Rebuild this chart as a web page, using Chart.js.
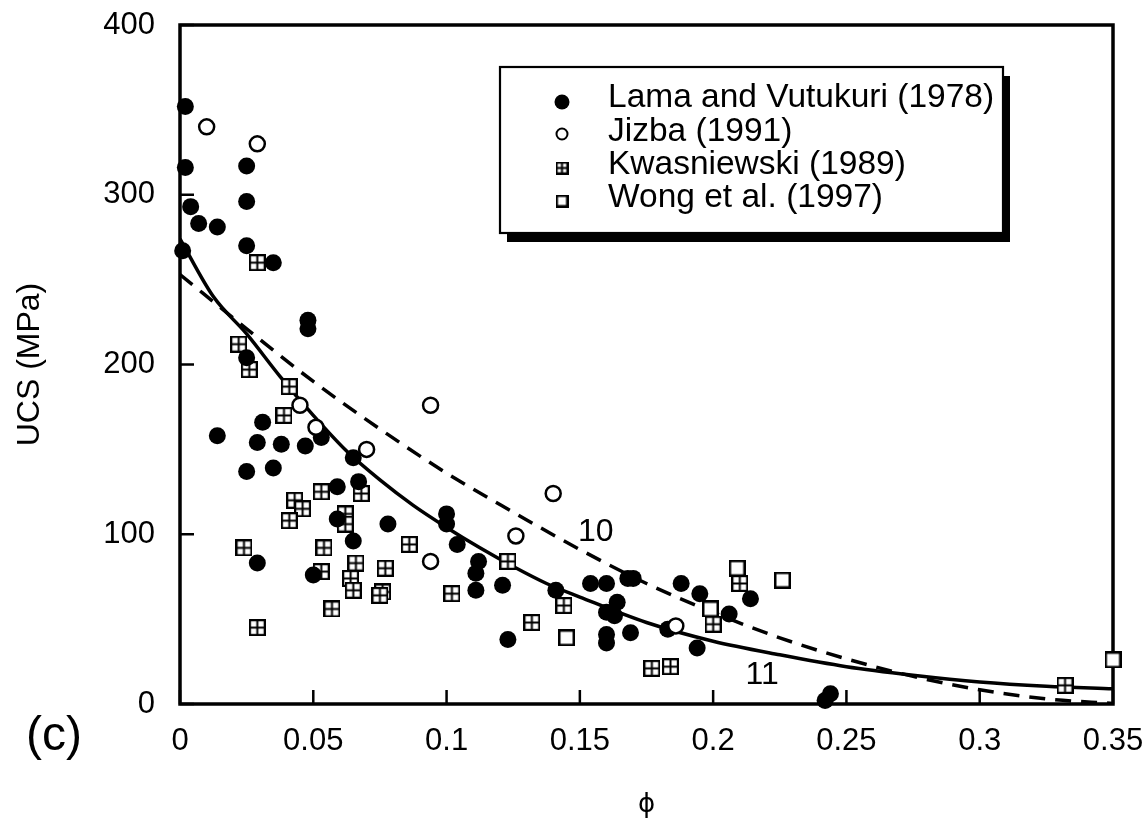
<!DOCTYPE html>
<html>
<head>
<meta charset="utf-8">
<script src="https://cdn.jsdelivr.net/npm/chart.js@4.4.0/dist/chart.umd.min.js"></script>
<style>
html,body{margin:0;padding:0;background:#fff;}
#wrap{width:1145px;height:821px;}
</style>
</head>
<body>
<div id="wrap"><canvas id="c" width="1145" height="821"></canvas></div>
<script>
// ---------- data ----------
const xTickLabels = ['0','0.05','0.1','0.15','0.2','0.25','0.3','0.35'];
const yTickLabels = ['0','100','200','300','400'];

const seriesLabels = ['Lama and Vutukuri (1978)','Jizba (1991)','Kwasniewski (1989)','Wong et al. (1997)'];

const lamaPoints = [
  [0.002,352],[0.002,316],[0.001,267],[0.004,293],[0.007,283],[0.014,281],
  [0.025,317],[0.025,296],[0.025,270],[0.035,260],[0.048,226],[0.048,221],
  [0.025,204],[0.031,166],[0.053,157],[0.014,158],[0.029,154],[0.038,153],
  [0.047,152],[0.065,145],[0.025,137],[0.035,139],[0.059,128],[0.067,131],
  [0.059,109],[0.065,96],[0.029,83],[0.050,76],[0.100,112],[0.100,106],
  [0.078,106],[0.104,94],[0.112,84],[0.111,77],[0.111,67],[0.121,70],
  [0.141,67],[0.154,71],[0.160,71],[0.123,38],[0.168,74],[0.170,74],
  [0.188,71],[0.164,60],[0.160,54],[0.163,52],[0.160,41],[0.160,36],
  [0.169,42],[0.183,44],[0.195,65],[0.206,53],[0.194,33],[0.214,62],
  [0.244,6],[0.242,2]
];
const jizbaPoints = [
  [0.010,340],[0.029,330],[0.045,176],[0.051,163],[0.070,150],[0.094,176],
  [0.140,124],[0.126,99],[0.094,84],[0.186,46]
];
const kwasPoints = [
  [0.029,260],[0.022,212],[0.026,197],[0.041,187],[0.039,170],[0.053,125],
  [0.068,124],[0.043,120],[0.046,115],[0.041,108],[0.062,112],[0.062,106],
  [0.024,92],[0.054,92],[0.086,94],[0.066,83],[0.053,78],[0.064,74],
  [0.065,67],[0.077,80],[0.076,66],[0.075,64],[0.057,56],[0.029,45],
  [0.123,84],[0.102,65],[0.144,58],[0.132,48],[0.200,47],[0.177,21],
  [0.184,22],[0.210,71],[0.332,11]
];
const wongPoints = [
  [0.145,39],[0.199,56],[0.209,80],[0.226,73],[0.350,26]
];
// fitted curves
const curve10 = [
  [0,253],[0.025,221],[0.05,190],[0.075,162],[0.1,136],[0.125,113],[0.15,91],
  [0.175,71],[0.2,54],[0.225,39],[0.25,26.6],[0.275,16.3],[0.3,8.4],[0.325,3.0],[0.35,0.3]
];
const curve11 = [
  [0,274],[0.0125,240],[0.025,218],[0.0375,193],[0.05,170],[0.0625,149],[0.075,132],
  [0.0875,117],[0.1,104],[0.1125,92],[0.125,81],[0.1375,71],[0.15,63],[0.175,48],
  [0.2,37],[0.225,29],[0.25,22],[0.275,17],[0.3,13],[0.325,10.5],[0.35,9]
];
const curveLabels = [{text:'10', x:0.156, y:101}, {text:'11', x:0.2184, y:17}];

// ---------- marker images ----------
function makeKwas(s){
  const c=document.createElement('canvas'); c.width=s; c.height=s;
  const g=c.getContext('2d');
  g.fillStyle='#fff'; g.fillRect(0,0,s,s);
  g.strokeStyle='#000'; g.lineWidth=2.2;
  g.strokeRect(1.1,1.1,s-2.2,s-2.2);
  g.lineWidth=2;
  g.beginPath(); g.moveTo(s/2,1); g.lineTo(s/2,s-1); g.moveTo(1,s/2); g.lineTo(s-1,s/2); g.stroke();
  return c;
}
function makeSquare(s){
  const c=document.createElement('canvas'); c.width=s; c.height=s;
  const g=c.getContext('2d');
  g.fillStyle='#fff'; g.fillRect(0,0,s,s);
  g.strokeStyle='#000'; g.lineWidth=2.5;
  g.strokeRect(1.25,1.25,s-2.5,s-2.5);
  return c;
}
const kwasImg = makeKwas(17), wongImg = makeSquare(17);
const kwasLeg = makeKwas(13), wongLeg = makeSquare(13);

const toXY = arr => arr.map(p => ({x:p[0], y:p[1]}));
const FONT = '"Liberation Sans", Arial, Helvetica, sans-serif';

// ---------- plugins ----------
const framePlugin = {
  id:'frame',
  beforeDatasetsDraw(chart){
    const {ctx, chartArea:a, scales:{x, y}} = chart;
    ctx.save();
    ctx.strokeStyle='#000';
    ctx.lineWidth=2.5;
    ctx.beginPath();
    x.ticks.forEach((t,i)=>{ const px=x.getPixelForTick(i); ctx.moveTo(px,a.bottom); ctx.lineTo(px,a.bottom-14); });
    y.ticks.forEach((t,i)=>{ const py=y.getPixelForTick(i); ctx.moveTo(a.left,py); ctx.lineTo(a.left+14,py); });
    ctx.stroke();
    ctx.lineWidth=3.5;
    ctx.strokeRect(a.left,a.top,a.right-a.left,a.bottom-a.top);
    ctx.restore();
  },
  afterDraw(chart){
    const {ctx, scales:{x, y}} = chart;
    ctx.save();
    ctx.fillStyle='#000';
    ctx.textAlign='center'; ctx.textBaseline='middle';
    ctx.font='32px '+FONT;
    curveLabels.forEach(l => ctx.fillText(l.text, x.getPixelForValue(l.x), y.getPixelForValue(l.y)));
    ctx.font='48px '+FONT;
    ctx.fillText('(c)', 54, 737);

    // legend box
    const bx=500, by=67, bw=503, bh=166;
    ctx.fillStyle='#000'; ctx.fillRect(bx+7,by+9,bw,bh);
    ctx.fillStyle='#fff'; ctx.fillRect(bx,by,bw,bh);
    ctx.lineWidth=2.2; ctx.strokeStyle='#000'; ctx.strokeRect(bx,by,bw,bh);
    const rowsY=[102,134,168,201];
    const baseY=[107,141,174,207];
    ctx.font='33.5px '+FONT; ctx.textAlign='left'; ctx.textBaseline='alphabetic';
    chart.data.datasets.forEach((ds,i)=>{
      if(!ds.inLegend) return;
      const mx=562, my=rowsY[i];
      if(i===0){ ctx.fillStyle='#000'; ctx.beginPath(); ctx.arc(mx,my,7.5,0,Math.PI*2); ctx.fill(); }
      else if(i===1){ ctx.strokeStyle='#000'; ctx.lineWidth=2; ctx.beginPath(); ctx.arc(mx,my,5.5,0,Math.PI*2); ctx.stroke(); }
      else if(i===2){ ctx.drawImage(kwasLeg, mx-6.5, my-6.5); }
      else if(i===3){ ctx.drawImage(wongLeg, mx-6.5, my-6.5); }
      ctx.fillStyle='#000';
      ctx.fillText(ds.label, 608, baseY[i]);
    });
    ctx.restore();
  }
};

// ---------- chart ----------
new Chart(document.getElementById('c'), {
  type:'scatter',
  data:{
    datasets:[
      {label:seriesLabels[0], inLegend:true, data:toXY(lamaPoints), pointStyle:'circle', pointRadius:8.5, pointHoverRadius:8.5,
       pointBackgroundColor:'#000', pointBorderColor:'#000', pointBorderWidth:0, order:2, clip:false},
      {label:seriesLabels[1], inLegend:true, data:toXY(jizbaPoints), pointStyle:'circle', pointRadius:7.5, pointHoverRadius:7.5,
       pointBackgroundColor:'#fff', pointBorderColor:'#000', pointBorderWidth:2.5, order:0, clip:false},
      {label:seriesLabels[2], inLegend:true, data:toXY(kwasPoints), pointStyle:kwasImg, pointRadius:8, order:3, clip:false},
      {label:seriesLabels[3], inLegend:true, data:toXY(wongPoints), pointStyle:wongImg, pointRadius:8, order:1, clip:false},
      {label:'10', data:toXY(curve10), showLine:true, pointRadius:0, borderColor:'#000', borderWidth:3.5,
       borderDash:[16,10], cubicInterpolationMode:'monotone', order:10},
      {label:'11', data:toXY(curve11), showLine:true, pointRadius:0, borderColor:'#000', borderWidth:3.5,
       cubicInterpolationMode:'monotone', order:9}
    ]
  },
  options:{
    responsive:false, animation:false, devicePixelRatio:1,
    events:[],
    layout:{padding:{left:0,right:32,top:25,bottom:0}},
    plugins:{legend:{display:false}, tooltip:{enabled:false}},
    scales:{
      x:{type:'linear', min:0, max:0.35,
         afterBuildTicks(s){ s.ticks = xTickLabels.map(v=>({value:parseFloat(v)})); },
         afterFit(s){ s.height=117; s.paddingLeft=0; s.paddingRight=0; },
         grid:{display:false, drawTicks:false}, border:{display:false},
         ticks:{padding:19, color:'#000', font:{family:FONT, size:31}, maxRotation:0, autoSkip:false,
                callback:(v,i)=>xTickLabels[i]},
         title:{display:true, text:'ϕ', color:'#000', font:{family:'"DejaVu Sans", sans-serif', size:26}, padding:{top:0,bottom:0}}
      },
      y:{type:'linear', min:0, max:400,
         afterBuildTicks(s){ s.ticks = yTickLabels.map(v=>({value:parseFloat(v)})); },
         afterFit(s){ s.width=180; s.paddingTop=0; s.paddingBottom=0; },
         grid:{display:false, drawTicks:false}, border:{display:false},
         ticks:{padding:25, color:'#000', font:{family:FONT, size:31}, autoSkip:false,
                callback:(v,i)=>yTickLabels[i]},
         title:{display:true, text:'UCS (MPa)', color:'#000', font:{family:FONT, size:32}, padding:{top:11,bottom:0}}
      }
    }
  },
  plugins:[framePlugin]
});
</script>
</body>
</html>
